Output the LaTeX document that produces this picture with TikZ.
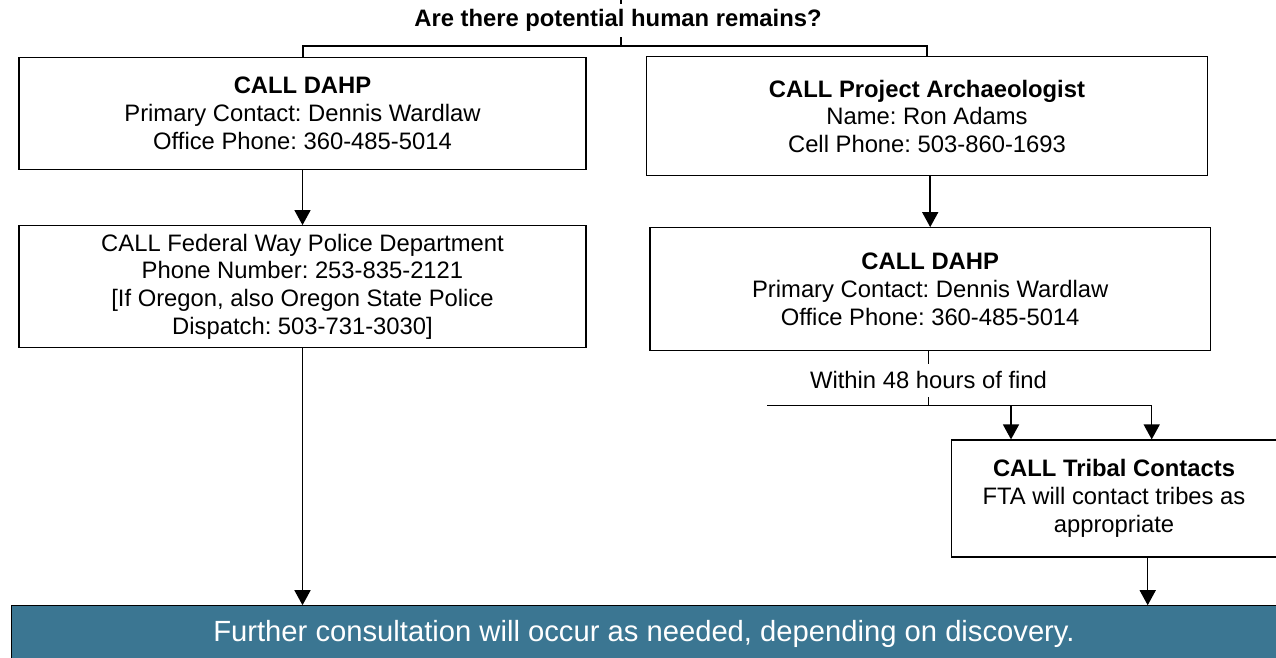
\documentclass[tikz,border=0pt]{standalone}
\usepackage{fontspec}
\setmainfont{Liberation Sans}
\usetikzlibrary{arrows.meta}
\definecolor{barblue}{RGB}{59,118,146}
\frenchspacing
\begin{document}
\begin{tikzpicture}[x=1pt,y=-1pt,
  box/.style={draw=black, line width=1.2pt, rectangle, inner sep=0pt, align=center,
    font=\fontsize{23.8pt}{27.7pt}\selectfont},
  conn/.style={line width=1.5pt},
  arr/.style={line width=1.5pt, -{Triangle[width=16pt,length=15pt]}},
  lbl/.style={fill=white, inner xsep=3pt, font=\fontsize{23.8pt}{27.7pt}\selectfont}
]
\useasboundingbox (0,0) rectangle (1276,657);

% boxes
\node[box, minimum width=567pt, minimum height=112pt] (dahp1) at (302.5,113.3)
  {\textbf{CALL DAHP}\\Primary Contact: Dennis Wardlaw\\Office Phone: 360-485-5014};
\node[box, minimum width=567pt, minimum height=121.6pt] (fed) at (302.5,286.5)
  {CALL Federal Way Police Department\\Phone Number: 253-835-2121\\{[}If Oregon, also Oregon State Police\\Dispatch: 503-731-3030{]}};
\node[box, minimum width=560.6pt, minimum height=119pt] (proj) at (927,116.2)
  {\textbf{CALL Project Archaeologist}\\Name: Ron Adams\\Cell Phone: 503-860-1693};
\node[box, minimum width=560.3pt, minimum height=123pt] (dahp2) at (930.2,289.2)
  {\textbf{CALL DAHP}\\Primary Contact: Dennis Wardlaw\\Office Phone: 360-485-5014};
\node[box, minimum width=324.6pt, minimum height=117pt] (tribal) at (1114,498.5)
  {\textbf{CALL Tribal Contacts}\\FTA will contact tribes as\\appropriate};
\node[draw=black, line width=1pt, fill=barblue, text=white, inner sep=0pt,
  minimum width=1266pt, minimum height=59.3pt, text height=21pt, text depth=7.9pt,
  font=\fontsize{29.2pt}{34pt}\selectfont] (bar) at (644,635.35)
  {Further consultation will occur as needed, depending on discovery.};

% top bracket
\coordinate (topc) at (621,0);
\coordinate (br) at (621,45.5);
\draw[line width=2pt] (topc) -- (br);
\draw[line width=2pt] (dahp1.north) -- (dahp1.north |- br) -- (proj.north |- br) -- (proj.north);
\node[lbl, inner ysep=5pt, font=\bfseries\fontsize{23.8pt}{27.7pt}\selectfont] (title) at (618,20.5)
  {Are there potential human remains?};

% left column
\draw[arr] (dahp1.south) -- (fed.north);
\draw[arr] (fed.south) -- (fed.south |- bar.north);

% right column
\draw[arr] (dahp2.north |- proj.south) -- (dahp2.north);
\coordinate (hl) at (928.5,405.7);
\coordinate (hleft) at (767.4,405.7);
\coordinate (hright) at (1151.7,405.7);
\coordinate (ha) at (1011,405.7);
\draw[conn] (dahp2.south -| hl) -- (hl);
\node[lbl, inner ysep=8pt] (within) at (928.5,380.4) {Within 48 hours of find};
\draw[conn] (hleft) -- (hright);
\draw[arr] (hright) -- (hright |- tribal.north);
\draw[arr] (ha) -- (ha |- tribal.north);
\coordinate (tb) at (1147.7,557);
\draw[arr] (tb) -- (tb |- bar.north);
\end{tikzpicture}
\end{document}
